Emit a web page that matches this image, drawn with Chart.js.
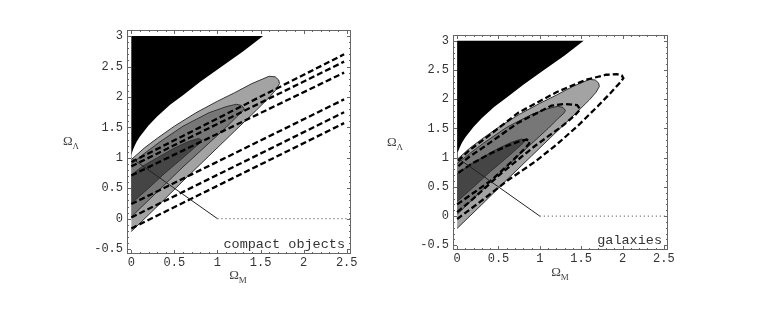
<!DOCTYPE html>
<html>
<head>
<meta charset="utf-8">
<script src="https://cdn.jsdelivr.net/npm/chart.js@4/dist/chart.umd.min.js"></script>
<style>
  body { margin: 0; background: #fff; }
  .panel { position: absolute; top: 0; width: 382px; height: 320px; }
  .lbl { position: absolute; font-family: "Liberation Serif", serif; font-size: 13px; color: #444; transform: translate(-50%, -50%); white-space: nowrap; }
  .lbl sub { font-size: 9px; }
  .tag { position: absolute; font-family: "Liberation Mono", monospace; font-size: 13.5px; color: #333; transform: translateY(-50%); white-space: nowrap; }
</style>
</head>
<body>
<div class="panel" style="left:0"><canvas id="c1"></canvas></div>
<div class="panel" style="left:382px"><canvas id="c2"></canvas></div>

<div class="lbl" style="left:71px;top:142px">Ω<sub>Λ</sub></div>
<div class="lbl" style="left:238px;top:276px">Ω<sub>M</sub></div>
<div class="lbl" style="left:395px;top:143px">Ω<sub>Λ</sub></div>
<div class="lbl" style="left:560px;top:273px">Ω<sub>M</sub></div>
<div class="tag" style="right:419px;top:244px">compact objects</div>
<div class="tag" style="right:102px;top:240px">galaxies</div>

<script>
// axis ticks
const xTicks = [0, 0.5, 1, 1.5, 2, 2.5];
const yTicks = [-0.5, 0, 0.5, 1, 1.5, 2, 2.5, 3];

// no big bang region (black)
const noBigBangM = [0, 0.003, 0.01, 0.03, 0.06, 0.1, 0.15, 0.2, 0.3, 0.45, 0.6, 0.8, 1.05, 1.3, 1.53, 0];
const noBigBangL = [1.0, 1.04, 1.09, 1.17, 1.26, 1.35, 1.44, 1.53, 1.68, 1.87, 2.03, 2.25, 2.5, 2.75, 3.0, 3.0];

// filled confidence contours (same in both panels)
const outerM = [0, 0.3, 0.6, 0.9, 1.2, 1.45, 1.6, 1.68, 1.72, 1.71, 1.67, 1.6, 1.4, 1.2, 1.0, 0.75, 0.5, 0.3, 0.15, 0];
const outerL = [-0.21, 0.2, 0.62, 1.03, 1.44, 1.78, 1.99, 2.12, 2.22, 2.28, 2.33, 2.34, 2.22, 2.07, 1.93, 1.74, 1.52, 1.32, 1.16, 0.97];
const midM = [0, 0.3, 0.6, 0.9, 1.1, 1.22, 1.29, 1.31, 1.28, 1.22, 1.1, 0.9, 0.6, 0.32, 0.15, 0];
const midL = [0.03, 0.44, 0.85, 1.24, 1.5, 1.67, 1.76, 1.81, 1.86, 1.88, 1.84, 1.74, 1.52, 1.25, 1.07, 0.9];
const innerM = [0, 0.2, 0.4, 0.6, 0.72, 0.8, 0.82, 0.78, 0.65, 0.5, 0.3, 0.15, 0];
const innerL = [0.25, 0.5, 0.76, 1.0, 1.15, 1.25, 1.29, 1.32, 1.26, 1.16, 1.0, 0.88, 0.72];

// compact objects: dashed bands (start at Om=0, end at Om=compactEndM)
const compactStartL = [0.93, 0.86, 0.71, 0.24, 0.02, -0.16];
const compactEndL = [2.70, 2.58, 2.40, 1.96, 1.75, 1.57];
const compactEndM = 2.47;

// galaxies: dashed contours
const galOuterM = [0, 0.34, 0.6, 0.94, 1.2, 1.47, 1.7, 1.85, 1.96, 2.01, 1.99, 1.93, 1.8, 1.55, 1.2, 0.74, 0.34, 0.15, 0];
const galOuterL = [-0.05, 0.31, 0.6, 0.93, 1.22, 1.56, 1.88, 2.1, 2.27, 2.36, 2.41, 2.43, 2.42, 2.33, 2.12, 1.77, 1.33, 1.13, 0.93];
const galMidM = [0, 0.14, 0.54, 0.94, 1.27, 1.42, 1.49, 1.45, 1.3, 1.14, 0.74, 0.34, 0.15, 0];
const galMidL = [0.07, 0.23, 0.74, 1.2, 1.54, 1.72, 1.83, 1.9, 1.92, 1.89, 1.6, 1.2, 1.02, 0.84];
const galInnerM = [0, 0.2, 0.42, 0.65, 0.8, 0.87, 0.88, 0.84, 0.75, 0.6, 0.4, 0.18, 0];
const galInnerL = [0.2, 0.4, 0.62, 0.92, 1.13, 1.24, 1.28, 1.31, 1.28, 1.2, 1.07, 0.9, 0.73];

// flat universe line and Omega_Lambda = 0
const flatM = [0, 1];
const flatL = [1, 0];
const zeroM = [1, 2.55];
const zeroL = [0, 0];

const pts = (ms, ls) => ms.map((m, i) => ({x: m, y: ls[i]}));

const framePlugin = {
  id: 'frame',
  afterDraw(chart) {
    const {ctx, chartArea: a, scales: {x, y}} = chart;
    ctx.save();
    ctx.strokeStyle = '#666';
    ctx.lineWidth = 1;
    ctx.strokeRect(a.left + 0.5, a.top + 0.5, a.right - a.left - 1, a.bottom - a.top - 1);
    ctx.beginPath();
    for (let i = Math.ceil(x.min * 10); i <= Math.floor(x.max * 10); i++) {
      const px = Math.round(x.getPixelForValue(i / 10)) + 0.5;
      const len = i % 5 === 0 ? 4 : 2;
      ctx.moveTo(px, a.bottom); ctx.lineTo(px, a.bottom - len);
      ctx.moveTo(px, a.top); ctx.lineTo(px, a.top + len);
    }
    for (let i = Math.ceil(y.min * 10); i <= Math.floor(y.max * 10); i++) {
      const py = Math.round(y.getPixelForValue(i / 10)) + 0.5;
      const len = i % 5 === 0 ? 4 : 2;
      ctx.moveTo(a.left, py); ctx.lineTo(a.left + len, py);
      ctx.moveTo(a.right, py); ctx.lineTo(a.right - len, py);
    }
    ctx.stroke();
    ctx.restore();
  }
};

function area(ms, ls, color, order, border) {
  return {
    data: pts(ms, ls), fill: 'shape', backgroundColor: color,
    borderColor: '#333', borderWidth: border, order: order
  };
}

function dashed(ms, ls) {
  return {
    data: pts(ms, ls), fill: false, borderColor: '#000', borderWidth: 2.3,
    borderDash: [6, 3], order: 5
  };
}

function baseSets() {
  return [
    area(noBigBangM, noBigBangL, '#000', 10, 0),
    area(outerM, outerL, '#a3a3a3', 9, 1),
    area(midM, midL, '#777', 8, 1),
    area(innerM, innerL, '#454545', 7, 1),
    {data: pts(flatM, flatL), fill: false, borderColor: '#222', borderWidth: 1, order: 2},
    {data: pts(zeroM, zeroL), fill: false, borderColor: '#333', borderWidth: 1, borderDash: [1, 3], order: 1}
  ];
}

function makeChart(id, datasets, pad, yWidth, xHeight) {
  const tickFont = {family: 'Liberation Mono', size: 12};
  return new Chart(document.getElementById(id), {
    type: 'line',
    data: {datasets: datasets},
    options: {
      responsive: true,
      maintainAspectRatio: false,
      animation: false,
      layout: {padding: pad},
      elements: {point: {radius: 0}, line: {tension: 0}},
      plugins: {legend: {display: false}, tooltip: {enabled: false}},
      scales: {
        x: {
          type: 'linear', min: -0.05, max: 2.55,
          grid: {display: false, drawTicks: false}, border: {display: false},
          afterBuildTicks: s => { s.ticks = xTicks.map(v => ({value: v})); },
          afterFit: s => { s.height = xHeight; },
          ticks: {font: tickFont, color: '#333', padding: 2, maxRotation: 0, autoSkip: false, callback: v => String(v)}
        },
        y: {
          type: 'linear', min: -0.58, max: 3.1,
          grid: {display: false, drawTicks: false}, border: {display: false},
          afterBuildTicks: s => { s.ticks = yTicks.map(v => ({value: v})); },
          afterFit: s => { s.width = yWidth; },
          ticks: {font: tickFont, color: '#333', padding: 4, autoSkip: false, callback: v => String(v)}
        }
      }
    },
    plugins: [framePlugin]
  });
}

const leftSets = baseSets();
compactStartL.forEach((l0, i) => {
  leftSets.push(dashed([0, compactEndM], [l0, compactEndL[i]]));
});
makeChart('c1', leftSets, {left: 0, right: 31, top: 30, bottom: 0}, 127, 66);

const rightSets = baseSets();
rightSets.push(dashed(galOuterM, galOuterL));
rightSets.push(dashed(galMidM, galMidL));
rightSets.push(dashed(galInnerM, galInnerL));
makeChart('c2', rightSets, {left: 0, right: 96, top: 35, bottom: 0}, 71, 70);
</script>
</body>
</html>
